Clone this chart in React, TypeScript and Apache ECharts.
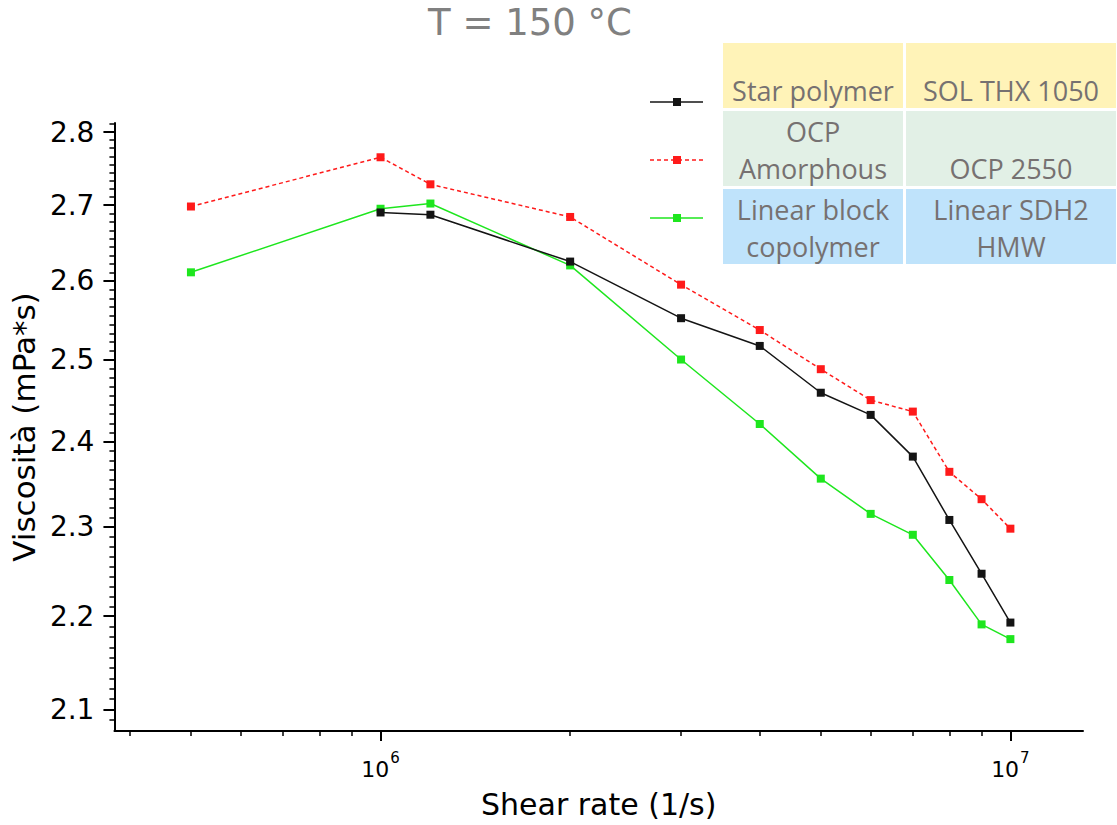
import React, { useEffect, useRef } from "react";
import * as echarts from "echarts";

// ---- data ----
const shearRates = [5e5, 1e6, 1.2e6, 2e6, 3e6, 4e6, 5e6, 6e6, 7e6, 8e6, 9e6, 1e7];
const starPolymer = [null, 2.69, 2.687, 2.625, 2.552, 2.517, 2.459, 2.432, 2.382, 2.308, 2.247, 2.193];
const ocpAmorphous = [2.698, 2.765, 2.728, 2.684, 2.595, 2.537, 2.488, 2.45, 2.436, 2.364, 2.332, 2.298];
const linearBlock = [2.611, 2.695, 2.702, 2.62, 2.5, 2.421, 2.356, 2.315, 2.291, 2.24, 2.191, 2.175];

const yTickValues = [2.1, 2.2, 2.3, 2.4, 2.5, 2.6, 2.7, 2.8];
const xMajorTicks = [1e6, 1e7];
const xMinorTicks = [4e5, 5e5, 6e5, 7e5, 8e5, 9e5, 2e6, 3e6, 4e6, 5e6, 6e6, 7e6, 8e6, 9e6];
const xRange = [3.78e5, 1.304e7];
const yRange = [2.0777, 2.8126];

const seriesNames = ["Star polymer", "OCP Amorphous", "Linear block copolymer"];
const tableCol1 = ["Star polymer", "OCP\nAmorphous", "Linear block\ncopolymer"];
const tableCol2 = ["SOL THX 1050", "OCP 2550", "Linear SDH2\nHMW"];
const seriesColors = ["#141414", "#ff1a1a", "#1ee61e"];

const lg = (v: number) => Math.log10(v);

function pairs(values: (number | null)[]) {
  const out: number[][] = [];
  values.forEach((v, i) => {
    if (v != null) out.push([lg(shearRates[i]), lg(v)]);
  });
  return out;
}

function yMinorTicks() {
  const out: number[] = [];
  const ls = yTickValues.map(lg);
  for (let i = 0; i < ls.length - 1; i++) {
    const step = (ls[i + 1] - ls[i]) / 9;
    for (let k = 1; k <= 8; k++) out.push(ls[i] + k * step);
  }
  out.push(ls[0] - (ls[1] - ls[0]) / 9);
  out.push(ls[ls.length - 1] + (ls[ls.length - 1] - ls[ls.length - 2]) / 9);
  return out;
}

const AXIS_FONT = "DejaVu Sans";
const TABLE_FONT = "Open Sans";
const TABLE_TEXT = "#767171";

export default function App() {
  const ref = useRef<HTMLDivElement>(null);
  useEffect(() => {
    const chart = echarts.init(ref.current!, null, { renderer: "svg" });

    const xmin = lg(xRange[0]);
    const xmax = lg(xRange[1]);
    const ymin = lg(yRange[0]);
    const ymax = lg(yRange[1]);

    const table: any[] = [];
    const colX = [723, 906];
    const colW = [180, 210];
    const rowY = [43, 111, 189];
    const rowH = [65, 75, 75];
    const rowFill = ["#fff3b8", "#e2f0e6", "#bfe3fb"];
    for (let r = 0; r < 3; r++) {
      for (let c = 0; c < 2; c++) {
        table.push({
          type: "rect",
          shape: { x: colX[c], y: rowY[r], width: colW[c], height: rowH[r] },
          style: { fill: rowFill[r] },
          z: 1,
        });
      }
    }
    const textCenters = [
      [90, 90],
      [149.5, 168],
      [228, 228],
    ];
    for (let r = 0; r < 3; r++) {
      [tableCol1[r], tableCol2[r]].forEach((t, c) => {
        table.push({
          type: "text",
          x: colX[c] + colW[c] / 2,
          y: textCenters[r][c],
          style: {
            text: t,
            fill: TABLE_TEXT,
            fontFamily: TABLE_FONT,
            fontSize: 27,
            lineHeight: 37,
            align: "center",
            verticalAlign: "middle",
          },
          z: 2,
        });
      });
    }
    const legendY = [102, 160, 218];
    const legendItems: any[] = [];
    for (let i = 0; i < 3; i++) {
      legendItems.push({
        type: "line",
        shape: { x1: 650, y1: legendY[i], x2: 703, y2: legendY[i] },
        style: {
          stroke: seriesColors[i],
          lineWidth: 1.5,
          lineDash: i === 1 ? [4, 3] : null,
        },
        z: 2,
      });
      legendItems.push({
        type: "rect",
        shape: { x: 673, y: legendY[i] - 4, width: 8, height: 8 },
        style: { fill: seriesColors[i] },
        z: 3,
      });
    }

    const mkSeries = (idx: number, values: (number | null)[], dashed: boolean, z: number) => ({
      name: seriesNames[idx],
      type: "line",
      data: pairs(values),
      xAxisIndex: 0,
      yAxisIndex: 0,
      symbol: "rect",
      symbolSize: 8,
      z,
      itemStyle: { color: seriesColors[idx] },
      lineStyle: { color: seriesColors[idx], width: 1.5, type: dashed ? [4, 3] : "solid" },
    });

    chart.setOption({
      animation: false,
      backgroundColor: "#ffffff",
      grid: { left: 108, right: 34, top: 123, bottom: 94, containLabel: false },
      xAxis: [
        {
          type: "value",
          min: xmin,
          max: xmax,
          position: "bottom",
          name: "Shear rate (1/s)",
          nameLocation: "middle",
          nameGap: 58,
          nameTextStyle: { fontFamily: AXIS_FONT, fontSize: 30, color: "#000" },
          axisLine: { show: true, lineStyle: { color: "#000", width: 2 } },
          axisTick: {
            show: true,
            inside: false,
            length: 10,
            lineStyle: { color: "#000", width: 2 },
            customValues: xMajorTicks.map(lg),
          },
          axisLabel: {
            show: true,
            margin: 19,
            color: "#000",
            customValues: xMajorTicks.map(lg),
            formatter: (v: number) => "{b|10}{s|" + Math.round(v) + "}",
            rich: {
              b: { fontFamily: AXIS_FONT, fontSize: 22, color: "#000", lineHeight: 30, verticalAlign: "bottom" },
              s: { fontFamily: AXIS_FONT, fontSize: 15, color: "#000", lineHeight: 15, verticalAlign: "top", padding: [0, 0, 0, 1] },
            },
          },
          splitLine: { show: false },
        },
        {
          type: "value",
          min: xmin,
          max: xmax,
          position: "bottom",
          axisLine: { show: false },
          axisTick: {
            show: true,
            inside: false,
            length: 5,
            lineStyle: { color: "#000", width: 1.5 },
            customValues: xMinorTicks.map(lg),
          },
          axisLabel: { show: false },
          splitLine: { show: false },
        },
      ],
      yAxis: [
        {
          type: "value",
          min: ymin,
          max: ymax,
          position: "left",
          name: "Viscosità (mPa*s)",
          nameLocation: "middle",
          nameGap: 73,
          nameTextStyle: { fontFamily: AXIS_FONT, fontSize: 31, color: "#000" },
          axisLine: { show: true, lineStyle: { color: "#000", width: 2 } },
          axisTick: {
            show: true,
            inside: false,
            length: 11,
            lineStyle: { color: "#000", width: 2 },
            customValues: yTickValues.map(lg),
          },
          axisLabel: {
            show: true,
            margin: 20,
            customValues: yTickValues.map(lg),
            formatter: (v: number) => Math.pow(10, v).toFixed(1),
            fontFamily: AXIS_FONT,
            fontSize: 28,
            color: "#000",
          },
          splitLine: { show: false },
        },
        {
          type: "value",
          min: ymin,
          max: ymax,
          position: "left",
          axisLine: { show: false },
          axisTick: {
            show: true,
            inside: false,
            length: 5,
            lineStyle: { color: "#000", width: 1.5 },
            customValues: yMinorTicks(),
          },
          axisLabel: { show: false },
          splitLine: { show: false },
        },
      ],
      series: [
        mkSeries(1, ocpAmorphous, true, 2),
        mkSeries(2, linearBlock, false, 3),
        mkSeries(0, starPolymer, false, 4),
      ],
      graphic: [
        {
          type: "text",
          x: 530,
          y: 22,
          style: {
            text: "T = 150 °C",
            fill: "#808080",
            fontFamily: "DejaVu Sans",
            fontSize: 37,
            align: "center",
            verticalAlign: "middle",
          },
        },
        ...table,
        ...legendItems,
      ],
    });
    return () => chart.dispose();
  }, []);
  return (
    <div
      ref={ref}
      style={{ position: "fixed", left: 0, top: 0, width: 1117, height: 825 }}
    />
  );
}
